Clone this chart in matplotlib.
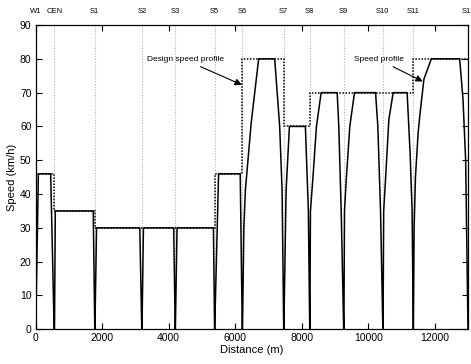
import matplotlib
matplotlib.use("Agg")
import matplotlib.pyplot as plt

plt.rcParams['font.family'] = ['Liberation Sans', 'DejaVu Sans']

# Stations
station_names = ["W1", "CEN", "S1", "S2", "S3", "S5", "S6", "S7", "S8", "S9", "S10", "S11", "S12"]
station_pos = [0, 560, 1777, 3193, 4196, 5380, 6215, 7458, 8241, 9265, 10440, 11355, 13000]

# Design speed per inter-station segment (km/h)
design_speed = [46, 35, 30, 30, 30, 46, 80, 60, 70, 70, 70, 80]

# Speed profile (distance m, speed km/h)
profile_dist = [0, 80, 450, 555,
                565, 590, 1730, 1777,
                1780, 1830, 3130, 3190,
                3196, 3240, 4150, 4196,
                4200, 4250, 5345, 5380,
                5382, 5500, 6150, 6212,
                6218, 6260, 6304, 6480, 6705, 7187, 7337, 7410, 7458,
                7462, 7530, 7630, 8110, 8200, 8241,
                8245, 8262, 8331, 8443, 8584, 9066, 9115, 9187, 9262,
                9268, 9286, 9337, 9446, 9587, 10220, 10289, 10370, 10440,
                10445, 10465, 10530, 10620, 10750, 11170, 11260, 11320, 11355,
                11358, 11380, 11420, 11500, 11560, 11675, 11898, 12750, 12850, 12930, 13000]
profile_speed = [0, 46, 46, 0,
                 0, 35, 35, 0,
                 0, 30, 30, 0,
                 0, 30, 30, 0,
                 0, 30, 30, 0,
                 0, 46, 46, 0,
                 0, 30, 41, 61, 80, 80, 60, 41, 0,
                 0, 41, 60, 60, 35, 0,
                 0, 35, 44, 60, 70, 70, 60, 35, 0,
                 0, 35, 44, 60, 70, 70, 60, 35, 0,
                 0, 35, 46, 62, 70, 70, 52, 35, 0,
                 0, 30, 45, 58, 64, 74, 80, 80, 68, 50, 0]

fig = plt.figure(figsize=(4.71, 3.64), dpi=100)
ax = fig.add_axes([0.0758, 0.0953, 0.9178, 0.836])

# station grid lines
for p in station_pos:
    ax.axvline(p, color='#b0b0b0', ls=(0, (1, 1.5)), lw=0.8, zorder=1)

# design speed profile (dotted steps)
ax.stairs(design_speed, station_pos, baseline=None, color='k', ls=(0, (1, 1)), lw=1.1, zorder=2)

# speed profile
ax.plot(profile_dist, profile_speed, color='k', lw=1.1, zorder=3)

ax.set_xlim(0, 13000)
ax.set_ylim(0, 90)
ax.set_xticks(range(0, 13000, 2000))
ax.set_yticks(range(0, 91, 10))
ax.tick_params(direction='in', top=True, right=True, length=4, width=0.8, labelsize=7.5, pad=3)
for s in ax.spines.values():
    s.set_linewidth(0.9)
ax.set_xlabel("Distance (m)", fontsize=8, labelpad=1)
ax.set_ylabel("Speed (km/h)", fontsize=8, labelpad=2)

# station labels above the axes
for n, p in zip(station_names, station_pos):
    ax.text(p, 1.045, n, transform=ax.get_xaxis_transform(), ha='center', va='center',
            fontsize=5.5, clip_on=False)

ax.annotate("Design speed profile", xy=(6200, 72.3), xytext=(5650, 79.7),
            ha='right', va='center', fontsize=6,
            arrowprops=dict(arrowstyle='-|>', color='k', lw=0.8, mutation_scale=10,
                            shrinkA=1, shrinkB=0))
ax.annotate("Speed profile", xy=(11640, 73.3), xytext=(11080, 79.7),
            ha='right', va='center', fontsize=6,
            arrowprops=dict(arrowstyle='-|>', color='k', lw=0.8, mutation_scale=10,
                            shrinkA=1, shrinkB=0))

fig.savefig("out.png", dpi=100)
